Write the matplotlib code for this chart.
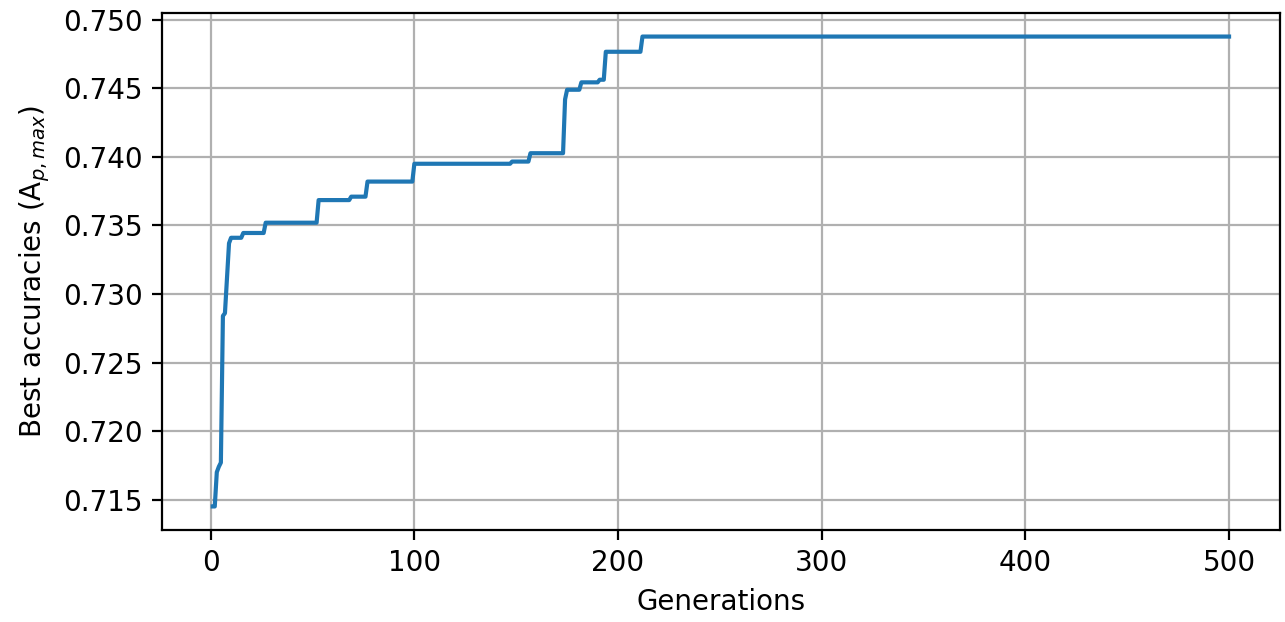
import numpy as np
import pandas as pd
import matplotlib
matplotlib.use('Agg')
import matplotlib.pyplot as plt

# generations where the best accuracy changed, and the new best value
change_gens = [1, 3, 4, 5, 6, 7, 8, 9, 10, 16, 27, 53, 69, 77, 100,
               148, 157, 174, 175, 182, 191, 194, 212]
change_vals = [0.7145, 0.7170, 0.7174, 0.7177, 0.7284, 0.7286, 0.7311,
               0.7337, 0.7341, 0.73445, 0.7352, 0.73685, 0.7371, 0.7382,
               0.7395, 0.73966, 0.74027, 0.7442, 0.7449, 0.74544, 0.74563,
               0.74767, 0.74878]
n_gens = 500

# best-so-far per generation (held until the next improvement)
best = pd.Series(change_vals, index=change_gens).reindex(
    np.arange(1, n_gens + 1)).ffill()

fig = plt.figure(figsize=(6.425, 3.11), dpi=200)
ax = fig.add_axes([0.126, 0.148, 0.870, 0.831])
ax.plot(best.index, best.values, color='#1f77b4')
ax.grid(True)
ax.set_xlabel('Generations')
ax.set_ylabel(r'Best accuracies (A$_{p,max}$)')
ax.set_xticks([0, 100, 200, 300, 400, 500])
ax.set_yticks([0.715, 0.720, 0.725, 0.730, 0.735, 0.740, 0.745, 0.750])

fig.savefig('out.png', dpi=200)
